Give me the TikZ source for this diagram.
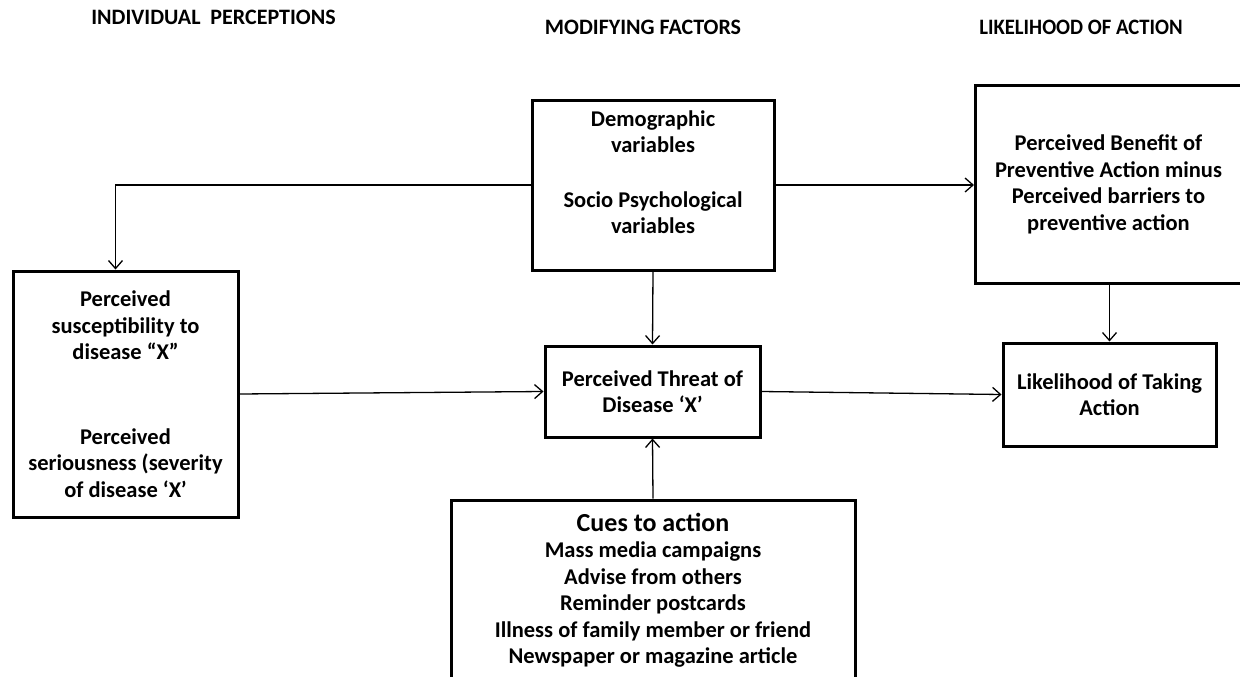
\documentclass[tikz,border=0pt]{standalone}
\usepackage{fontspec}
\usepackage{graphicx}
\setmainfont{Carlito}
\usetikzlibrary{arrows.meta}

\newcommand\bodyfont{\fontsize{22.5}{26.5}\selectfont\bfseries}
\newcommand\headfont{\fontsize{22}{26}\selectfont\bfseries}

\tikzset{
  box/.style={draw=black, line width=3pt, fill=white, inner sep=0pt, align=center, font=\bodyfont},
  txt/.style={inner sep=0pt, align=center, font=\bodyfont},
  head/.style={inner sep=0pt, font=\headfont},
  conn/.style={draw=black, line width=1.3pt, -{Straight Barb[length=8pt,width=14pt]}},
}

\begin{document}
\begin{tikzpicture}[x=1pt,y=-1pt]
\useasboundingbox (0,0) rectangle (1240,677);

% column headings
\node[head] (hind) at (213.5,17) {INDIVIDUAL\ \ PERCEPTIONS};
\node[head] (hmod) at (643,27) {MODIFYING FACTORS};
\node[head] (hlik) at (1081,27) {\scalebox{0.94}[1]{LIKELIHOOD OF ACTION}};

% boxes
\node[box, minimum width=225pt, minimum height=246pt] (sus) at (125.5,394)
  {Perceived\\susceptibility to\\disease “X”\\[58pt]Perceived\\seriousness (severity\\of disease ‘X’};
\node[box, minimum width=242pt, minimum height=170pt] (demo) at (653,185) {};
\node[txt] (demotxt) at (653,172) {Demographic\\variables\\[28pt]Socio Psychological\\variables};
\node[box, minimum width=266pt, minimum height=197pt] (ben) at (1108.5,184.5)
  {Perceived Benefit of\\Preventive Action minus\\Perceived barriers to\\preventive action};
\node[box, minimum width=215pt, minimum height=91pt] (threat) at (652.5,391.5)
  {Perceived Threat of\\Disease ‘X’};
\node[box, minimum width=213pt, minimum height=103pt] (lik) at (1109.5,394.5)
  {Likelihood of Taking\\Action};
\node[box, minimum width=404pt, minimum height=184pt] (cues) at (653,592) {};
\node[txt] (cuestxt) at (653,590.5)
  {{\fontsize{26}{29}\selectfont Cues to action}\\Mass media campaigns\\Advise from others\\Reminder postcards\\Illness of family member or friend\\Newspaper or magazine article};

% connectors
\draw[conn] (demo.west) -| ([xshift=104pt]sus.north west);
\draw[conn] (demo.east) -- (ben.west |- demo.east);
\draw[conn] (demo.south) -- (threat.north);
\draw[conn] (lik.north |- ben.south) -- (lik.north);
\draw[conn] (sus.east) -- (threat.west);
\draw[conn] (threat.east) -- (lik.west);
\draw[conn] (cues.north) -- (threat.south);
\end{tikzpicture}
\end{document}
